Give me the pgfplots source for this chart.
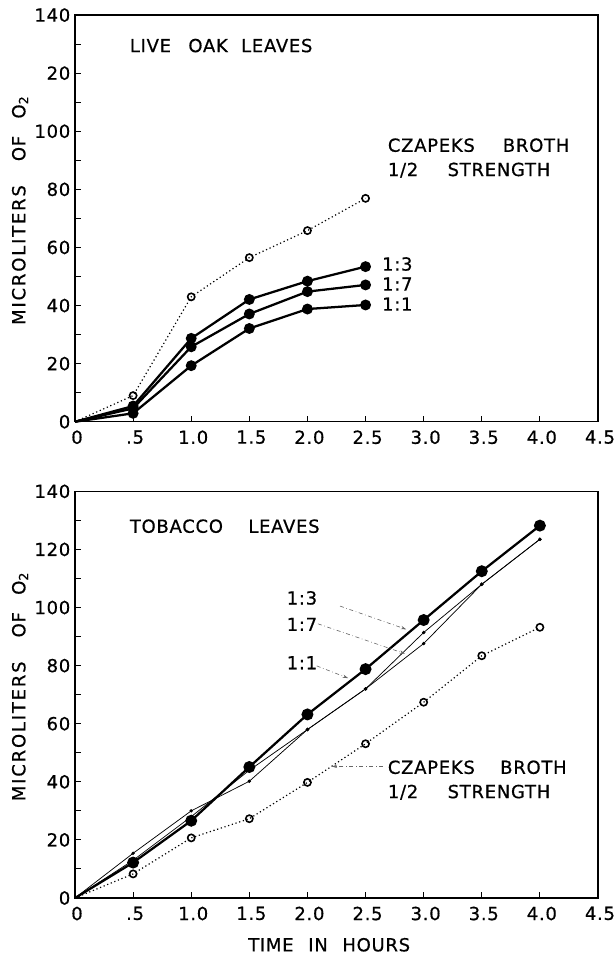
\documentclass[border=0pt]{standalone}
\usepackage{fontspec}
\setmainfont{DejaVu Sans}[LetterSpace=4, FakeBold=0.6]
\newfontfamily\spaced[LetterSpace=10, FakeBold=0.6]{DejaVu Sans}
\usepackage{pgfplots}
\pgfplotsset{compat=1.18}
\usetikzlibrary{arrows.meta}

\pgfplotsset{
  panel/.style={
    scale only axis, width=392.25pt, height=305pt,
    xmin=0, xmax=4.5, ymin=0, ymax=140,
    xtick={0,0.5,1,1.5,2,2.5,3,3.5,4,4.5},
    xticklabels={0,.5,1.0,1.5,2.0,2.5,3.0,3.5,4.0,4.5},
    ytick={0,20,40,60,80,100,120,140},
    minor ytick={10,30,50,70,90,110,130},
    tick pos=left, tick align=inside,
    major tick length=4.5pt, minor tick length=4.5pt,
    axis line style={line width=1.1pt},
    every tick/.style={black, line width=0.8pt},
    tick label style={font=\fontsize{13.5}{13.5}\selectfont},
    xticklabel style={yshift=-3pt, xshift=1.5pt},
    /pgf/number format/assume math mode=true,
    every axis y label/.style={at={(axis description cs:-0.105,0.52)}, rotate=90,
      anchor=center, font=\fontsize{13.5}{13.5}\selectfont},
    ylabel={\spaced MICROLITERS\hspace{18pt}\normalfont OF\hspace{13pt}O\textsubscript{2}},
    clip=false,
  },
  heavy/.style={black, line width=1.7pt, mark=*, mark size=3.2pt},
  broth/.style={black, line width=0.9pt, dotted, mark=o, mark size=2.7pt,
    mark options={solid, line width=1.2pt}},
  light/.style={black, line width=0.55pt, mark=*, mark size=1pt},
}
\tikzset{
  tx/.style={font=\fontsize{13.5}{13.5}\selectfont, anchor=west, inner sep=0pt},
  leader/.style={black!60, line width=0.45pt, dash dot, -{Stealth[length=4pt,width=2.5pt]}},
}

\begin{document}
\begin{tikzpicture}
\path[use as bounding box] (0,0) rectangle (462pt,-720.75pt);

% live oak leaves
\begin{axis}[panel, at={(56.25pt,-316.3pt)}, anchor=south west,
  yticklabels={0,20,40,60,80,100,20,140}, mark indices={2,3,4,5,6}]
\addplot[broth] coordinates {(0,0) (0.5,9.0) (1.0,43.0) (1.5,56.5) (2.0,65.8) (2.5,76.9)};
\addplot[heavy] coordinates {(0,0) (0.5,5.4) (1.0,28.7) (1.5,42.1) (2.0,48.4) (2.5,53.4)};
\addplot[heavy] coordinates {(0,0) (0.5,4.6) (1.0,25.8) (1.5,37.1) (2.0,44.8) (2.5,47.1)};
\addplot[heavy] coordinates {(0,0) (0.5,2.9) (1.0,19.3) (1.5,32.1) (2.0,38.8) (2.5,40.2)};
\node[tx] at (axis cs:0.47,129.5) {LIVE\hspace{13pt}OAK\hspace{10pt}LEAVES};
\node[tx] at (axis cs:2.69,95.2) {CZAPEKS\hspace{21pt}BROTH};
\node[tx] at (axis cs:2.69,86.6) {1/2\hspace{22pt}STRENGTH};
\node[tx] at (axis cs:2.64,54.3) {1:3};
\node[tx] at (axis cs:2.64,47.4) {1:7};
\node[tx] at (axis cs:2.64,40.5) {1:1};
\end{axis}

% tobacco leaves
\begin{axis}[panel, at={(56.25pt,-673.5pt)}, anchor=south west,
  yticklabels={0,20,40,60,80,100,120,140}, mark indices={2,3,4,5,6,7,8,9},
  xlabel={TIME\hspace{11pt}IN\hspace{11pt}HOURS},
  every axis x label/.style={at={(axis description cs:0.486,-0.115)}, anchor=center,
    font=\fontsize{13.5}{13.5}\selectfont}]
\addplot[broth] coordinates {(0,0) (0.5,8.3) (1.0,20.7) (1.5,27.3) (2.0,39.8) (2.5,53.1) (3.0,67.4) (3.5,83.4) (4.0,93.2)};
\addplot[light] coordinates {(0,0) (0.5,15.4) (1.0,30.0) (1.5,40.2) (2.0,58.0) (2.5,72.0) (3.0,91.4) (3.5,108.0) (4.0,123.5)};
\addplot[light] coordinates {(0,0) (0.5,13.0) (1.0,28.0) (1.5,44.0) (2.0,58.0) (2.5,72.0) (3.0,87.6) (3.5,108.0) (4.0,123.5)};
\addplot[heavy, mark size=3.6pt] coordinates {(0,0) (0.5,12.2) (1.0,26.6) (1.5,45.1) (2.0,63.2) (2.5,78.8) (3.0,95.7) (3.5,112.5) (4.0,128.2)};
\node[tx] at (axis cs:0.47,128) {TOBACCO\hspace{19pt}LEAVES};
\node[tx] at (axis cs:1.82,103.3) {1:3};
\node[tx] at (axis cs:1.82,94.2) {1:7};
\node[tx] at (axis cs:1.82,81.0) {1:1};
\draw[leader] (axis cs:2.28,100.5) -- (axis cs:2.85,92.5);
\draw[leader] (axis cs:2.09,94.4) -- (axis cs:2.84,84.1);
\draw[leader] (axis cs:2.08,79.9) -- (axis cs:2.35,75.7);
\draw[leader] (axis cs:2.65,45.3) -- (axis cs:2.21,45.3);
\node[tx] at (axis cs:2.69,45.0) {CZAPEKS\hspace{19pt}BROTH};
\node[tx] at (axis cs:2.69,36.4) {1/2\hspace{22pt}STRENGTH};
\end{axis}
\end{tikzpicture}
\end{document}
